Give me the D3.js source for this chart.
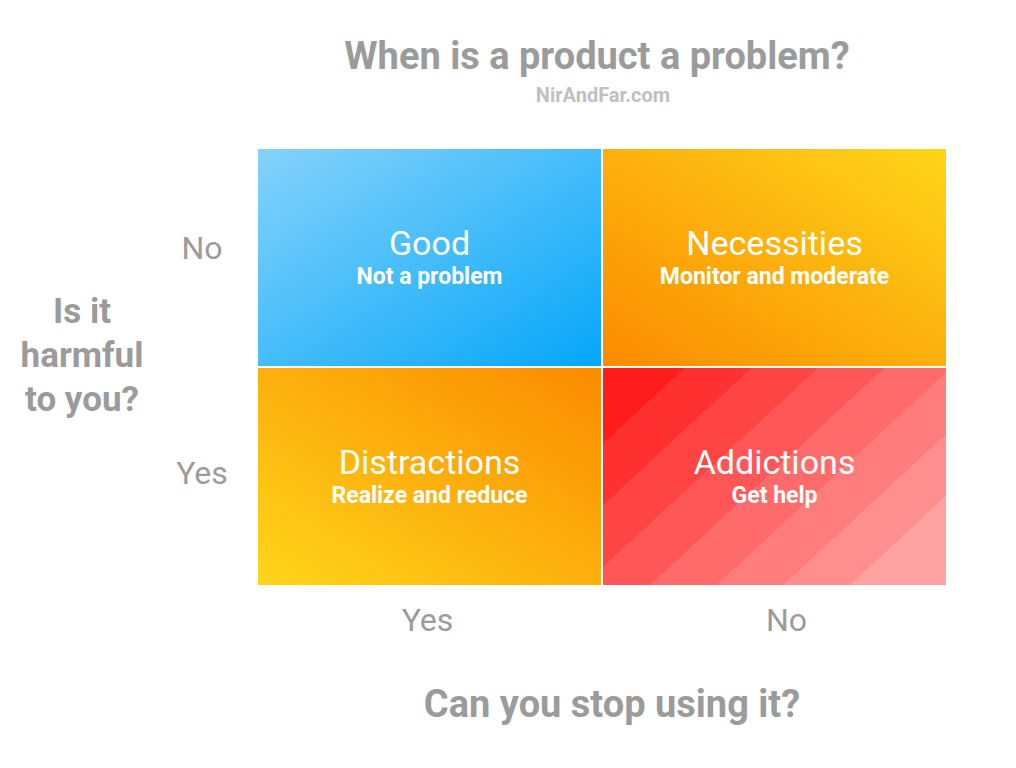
<!DOCTYPE html><html><head><meta charset="utf-8">
<script src="https://cdn.jsdelivr.net/npm/d3@7"></script>
<style>body{margin:0;background:#fff}text{font-family:Roboto,"Open Sans",sans-serif}</style></head><body>
<svg id="c" width="1016" height="768"></svg>
<script>
const cols = ["Yes","No"];            // Can you stop using it?
const rows = ["No","Yes"];            // Is it harmful to you?
const cellTitles = [["Good","Necessities"],["Distractions","Addictions"]];
const cellSubs = [["Not a problem","Monitor and moderate"],["Realize and reduce","Get help"]];

const svg = d3.select("#c");
const x = d3.scaleBand().domain(cols).range([257,947]);
const y = d3.scaleBand().domain(rows).range([148,586]);
const defs = svg.append("defs");
function grad(id, x1,y1,x2,y2, stops){
  const g = defs.append("linearGradient").attr("id",id).attr("x1",x1).attr("y1",y1).attr("x2",x2).attr("y2",y2);
  stops.forEach(s=>g.append("stop").attr("offset",s[0]).attr("stop-color",s[1]));
}
grad("g0",0,0,1,1,[[0,"#85d3fb"],[1,"#05a6f9"]]);
grad("g1",0,1,1,0,[[0,"#fb8a00"],[1,"#fed61a"]]);
grad("g2",0,1,1,0,[[0,"#fed61a"],[1,"#fb8a00"]]);
const bandCols = ["#ff1c1c","#ff3030","#ff4444","#ff5757","#ff6a6a","#ff7c7c","#ff8e8e","#ffa2a2"];
const bs=[]; bandCols.forEach((c,i)=>{bs.push([i/bandCols.length,c]);bs.push([(i+1)/bandCols.length,c]);});
grad("g3",0.05,0,1.1,0.72,bs);
const fills=[["url(#g0)","url(#g1)"],["url(#g2)","url(#g3)"]];

rows.forEach((r,i)=>cols.forEach((c,j)=>{
  svg.append("rect").attr("x",x(c)).attr("y",y(r)).attr("width",x.bandwidth()).attr("height",y.bandwidth())
    .attr("fill",fills[i][j]).attr("stroke","#fff").attr("stroke-width",2);
  const cx=x(c)+x.bandwidth()/2, cy=y(r)+y.bandwidth()/2;
  svg.append("text").attr("x",cx).attr("y",cy-3).attr("text-anchor","middle").attr("fill","#fff")
    .attr("font-size",34).text(cellTitles[i][j]);
  svg.append("text").attr("x",cx).attr("y",cy+26).attr("text-anchor","middle").attr("fill","#fff")
    .attr("font-size",23).attr("font-weight","bold").text(cellSubs[i][j]);
}));
cols.forEach(c=>svg.append("text").attr("x",x(c)+x.bandwidth()/2+(c==="No"?12:-2)).attr("y",631).attr("text-anchor","middle")
  .attr("fill","#9b9b9b").attr("font-size",32).text(c));
rows.forEach(r=>svg.append("text").attr("x",202).attr("y",y(r)+y.bandwidth()/2+(r==="No"?1:7)).attr("text-anchor","middle")
  .attr("fill","#9b9b9b").attr("font-size",32).text(r));
svg.append("text").attr("x",597).attr("y",69).attr("text-anchor","middle").attr("fill","#9b9b9b")
  .attr("font-size",38).attr("font-weight","bold").text("When is a product a problem?");
svg.append("text").attr("x",603).attr("y",102).attr("text-anchor","middle").attr("fill","#c0c0c0")
  .attr("font-size",20).attr("font-weight","bold").text("NirAndFar.com");
svg.append("text").attr("x",612).attr("y",717).attr("text-anchor","middle").attr("fill","#9b9b9b")
  .attr("font-size",38).attr("font-weight","bold").text("Can you stop using it?");
const yl=svg.append("text").attr("text-anchor","middle").attr("fill","#9b9b9b").attr("font-size",35).attr("font-weight","bold");
["Is it","harmful","to you?"].forEach((t,k)=>yl.append("tspan").attr("x",82).attr("y",323+k*44).text(t));
</script></body></html>
